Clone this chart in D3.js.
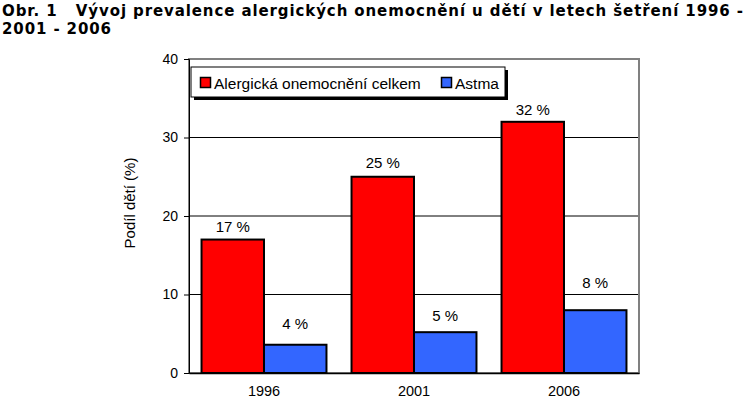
<!DOCTYPE html>
<html>
<head>
<meta charset="utf-8">
<script src="https://cdn.jsdelivr.net/npm/d3@7"></script>
<style>
  body { margin: 0; background: #fff; }
  svg text { font-family: "Liberation Sans", Arial, sans-serif; }
</style>
</head>
<body>
<div id="chart"></div>
<script>
// data
var years = ["1996", "2001", "2006"];
var seriesNames = ["Alergická onemocnění celkem", "Astma"];
var allergy = [17, 25, 32];
var asthma = [3.6, 5.2, 8.0];
var yTicks = [0, 10, 20, 30, 40];
var colors = ["#ff0000", "#3366ff"];

// gap (px) between bar top and its label, as placed in the original
var labelGap = [[8, 9, 7], [16, 11, 22]];

var svgWidth = 752;
var svgHeight = 410;

var plot = { left: 189, right: 639, top: 59, bottom: 373 };

var svg = d3.select("#chart")
  .append("svg")
  .attr("width", svgWidth)
  .attr("height", svgHeight);

// title
var title = svg.append("text")
  .style("font-family", "'DejaVu Sans', Verdana, sans-serif")
  .style("font-weight", "bold")
  .style("font-size", "15px")
  .attr("fill", "#000");
title.append("tspan").attr("x", 2).attr("y", 16)
  .attr("textLength", 741).attr("lengthAdjust", "spacing")
  .text("Obr. 1\u00a0\u00a0\u00a0Vývoj prevalence alergických onemocnění u dětí v letech šetření 1996 -");
title.append("tspan").attr("x", 2).attr("y", 34)
  .attr("textLength", 109).attr("lengthAdjust", "spacing")
  .text("2001 - 2006");

var x0 = d3.scaleBand()
  .domain(years)
  .range([plot.left, plot.right])
  .paddingInner(0.167)
  .paddingOuter(0.0835);

var x1 = d3.scaleBand()
  .domain([0, 1])
  .range([0, x0.bandwidth()]);

var y = d3.scaleLinear()
  .domain([0, 40])
  .range([plot.bottom, plot.top]);

// gridlines
svg.append("g")
  .selectAll("line")
  .data(yTicks.filter(d => d > 0 && d < 40))
  .enter()
  .append("line")
  .attr("x1", plot.left)
  .attr("x2", plot.right)
  .attr("y1", d => y(d))
  .attr("y2", d => y(d))
  .attr("stroke", "#000")
  .attr("stroke-width", 1);

// plot border (grey)
svg.append("rect")
  .attr("x", plot.left)
  .attr("y", plot.top)
  .attr("width", plot.right - plot.left)
  .attr("height", plot.bottom - plot.top)
  .attr("fill", "none")
  .attr("stroke", "#808080")
  .attr("stroke-width", 2);

// bars
var rows = years.map(function(yr, i) {
  return { year: yr, i: i, values: [allergy[i], asthma[i]] };
});

var groups = svg.selectAll("g.year")
  .data(rows)
  .enter()
  .append("g")
  .attr("class", "year")
  .attr("transform", d => `translate(${x0(d.year)},0)`);

groups.selectAll("rect")
  .data(d => d.values.map((v, k) => ({ k: k, v: v, i: d.i })))
  .enter()
  .append("rect")
  .attr("x", d => x1(d.k))
  .attr("y", d => y(d.v))
  .attr("width", x1.bandwidth())
  .attr("height", d => y(0) - y(d.v))
  .attr("fill", d => colors[d.k])
  .attr("stroke", "#000")
  .attr("stroke-width", 2);

groups.selectAll("text.val")
  .data(d => d.values.map((v, k) => ({ k: k, v: v, i: d.i })))
  .enter()
  .append("text")
  .attr("class", "val")
  .attr("x", d => x1(d.k) + x1.bandwidth() / 2)
  .attr("y", d => y(d.v) - labelGap[d.k][d.i])
  .attr("text-anchor", "middle")
  .style("font-size", "15px")
  .text(d => Math.round(d.v) + " %");

// axes
var leftAxis = d3.axisLeft(y).tickValues(yTicks).tickSize(5).tickPadding(6);
var gy = svg.append("g")
  .attr("transform", `translate(${plot.left},0)`)
  .call(leftAxis);
gy.select(".domain").attr("stroke", "#000");
gy.selectAll("text").style("font-size", "14px").style("font-family", "'Liberation Sans', Arial, sans-serif").attr("fill", "#000");

var bottomAxis = d3.axisBottom(x0).tickSize(0).tickPadding(13);
var gx = svg.append("g")
  .attr("transform", `translate(0,${plot.bottom})`)
  .call(bottomAxis);
gx.select(".domain").attr("stroke", "#000").attr("stroke-width", 1.5);
gx.selectAll("text").style("font-size", "14.5px").style("font-family", "'Liberation Sans', Arial, sans-serif").attr("fill", "#000");

// y axis title
svg.append("text")
  .attr("transform", "translate(135, 203) rotate(-90)")
  .attr("text-anchor", "middle")
  .style("font-size", "15px")
  .text("Podíl dětí (%)");

// legend
var legend = { x: 191, y: 67, w: 314, h: 30 };
svg.append("rect")
  .attr("x", legend.x + 3)
  .attr("y", legend.y + 3)
  .attr("width", legend.w)
  .attr("height", legend.h)
  .attr("fill", "#000");
svg.append("rect")
  .attr("x", legend.x)
  .attr("y", legend.y)
  .attr("width", legend.w)
  .attr("height", legend.h)
  .attr("fill", "#fff")
  .attr("stroke", "#000")
  .attr("stroke-width", 1);

var legendX = [200, 441];
var items = svg.selectAll("g.leg")
  .data(seriesNames)
  .enter()
  .append("g")
  .attr("class", "leg")
  .attr("transform", (d, i) => `translate(${legendX[i]},${legend.y + 16})`);
items.append("rect")
  .attr("x", 0.5)
  .attr("y", -5.5)
  .attr("width", 10)
  .attr("height", 10)
  .attr("fill", (d, i) => colors[i])
  .attr("stroke", "#000")
  .attr("stroke-width", 1.5);
items.append("text")
  .attr("x", 14)
  .attr("y", 5.5)
  .style("font-size", "15.5px")
  .text(d => d);
</script>
</body>
</html>
